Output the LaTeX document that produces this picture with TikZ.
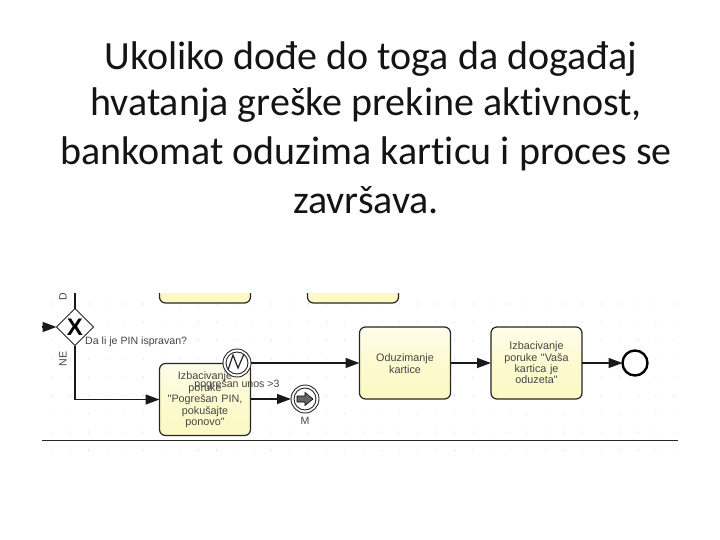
\documentclass[tikz,border=0pt]{standalone}
\usepackage{fontspec}
\setmainfont{Carlito}[Ligatures=NoCommon]
\newfontfamily\diagfont{Liberation Sans}
\usetikzlibrary{shapes.geometric,arrows.meta}
\definecolor{taskfill}{HTML}{FCF9C4}
\definecolor{labelink}{HTML}{444444}
\tikzset{
  x=1pt,y=-1pt,
  titleline/.style={font=\fontsize{40}{40}\selectfont,text=black!92,anchor=base,inner sep=0},
  taskbox/.style={draw=black!85,line width=1.2pt,rounded corners=6pt,minimum width=91pt,minimum height=72pt,
    top color=taskfill!35,bottom color=taskfill,middle color=taskfill!80,inner sep=0,outer sep=0},
  tasktext/.style={font=\diagfont\fontsize{10.8}{11.4}\selectfont,text=labelink,align=center,text width=84pt},
  flow/.style={draw=black!90,line width=1.5pt,-{Triangle[length=14pt,width=10pt]}},
  plainflow/.style={draw=black!90,line width=1.5pt},
  gate/.style={diamond,draw=black!85,line width=1pt,fill=white,minimum width=37pt,minimum height=37pt,inner sep=0,outer sep=0},
  evtouter/.style={circle,draw=black!85,line width=.9pt,fill=white,inner sep=0,outer sep=0},
  smalllabel/.style={font=\diagfont\fontsize{10.6}{11}\selectfont,text=labelink,inner sep=0},
  griddot/.style={fill=black!18},
}
\begin{document}
\begin{tikzpicture}
\useasboundingbox (0,0) rectangle (720,540);
\fill[white] (0,0) rectangle (720,540);
% title
\node[titleline] (t1) at (371,70) {Ukoliko dođe do toga da događaj};
\node[titleline] (t2) at (366,116) {hvatanja greške prekine aktivnost,};
\node[titleline] (t3) at (366,165) {bankomat oduzima karticu i proces se};
\node[titleline] (t4) at (366,214) {završava.};
% dot grid
\foreach \yy in {304,322.3,340.6,358.9,377.2,395.5,413.8,432.1,450.4}
  \foreach \xx in {52,70.3,...,680}
    \fill[griddot] (\xx,\yy) circle (.55pt);
% clipped upper tasks
\begin{scope}
\clip (30,293) rectangle (690,320);
\node[taskbox] (upa) at (205,267) {};
\node[taskbox] (upb) at (353,267) {};
\end{scope}
% pool line
\coordinate (poolL) at (42,440);
\coordinate (poolR) at (678,440);
\draw[black!85,line width=.8pt] (poolL) -- (poolR);
% tasks
\node[taskbox] (izb) at (205,399.5) {};
\node[taskbox] (odu) at (405,363) {};
\node[taskbox] (vas) at (536.5,363) {};
\node[tasktext] (izbt) at (205,400) {Izbacivanje\\poruke\\"Pogrešan PIN,\\pokušajte\\ponovo"};
\node[tasktext] (odut) at (405,363.5) {Oduzimanje\\kartice};
\node[tasktext] (vast) at (536.5,363) {Izbacivanje\\poruke "Vaša\\kartica je\\oduzeta"};
% gateway
\node[gate] (gw) at (75,327) {};
\node[font=\diagfont\bfseries\fontsize{24}{24}\selectfont,inner sep=0] (gwx) at (75,327) {X};
% events
\node[evtouter,minimum size=28pt] (err) at (237,363) {};
\node[circle,draw=black!85,line width=.9pt,minimum size=22pt,inner sep=0] (err2) at (237,363) {};
\draw[black!85,line width=1.2pt,line join=miter] (228,370) -- (233,355) -- (238,368) -- (244,354);
\node[evtouter,minimum size=28pt] (mev) at (305,399) {};
\node[circle,draw=black!85,line width=.9pt,minimum size=22pt,inner sep=0] (mev2) at (305,399) {};
\fill[black!60,draw=black,line width=.6pt] (297,396) -- (305,396) -- (305,392.5) -- (313,399) -- (305,405.5) -- (305,402) -- (297,402) -- cycle;
\node[circle,draw=black,line width=2.4pt,fill=white,minimum size=25pt,inner sep=0,outer sep=0] (endev) at (635,363) {};
% connectors
\coordinate (inflow) at (42,327);
\coordinate (upflow) at (75,293);
\draw[flow] (inflow) -- (gw.west);
\draw[plainflow] (gw.north) -- (upflow);
\draw[flow] (gw.south) |- (izb.west);
\draw[flow] (err.east) -- (odu.west);
\draw[flow] (izb.east |- mev.west) -- (mev.west);
\draw[flow] (odu.east) -- (vas.west);
\draw[flow] (vas.east) -- (endev.west);
% labels
\node[smalllabel,anchor=west] (q) at (85,342) {Da li je PIN ispravan?};
\node[smalllabel] (pg) at (237,385) {pogrešan unos >3};
\node[smalllabel] (ml) at (305,421) {M};
\node[smalllabel,rotate=90] (ne) at (63,359) {NE};
\begin{scope}
\clip (50,293) rectangle (75,310);
\node[smalllabel,rotate=90,anchor=west] (da) at (63,301) {DA};
\end{scope}
\end{tikzpicture}
\end{document}
